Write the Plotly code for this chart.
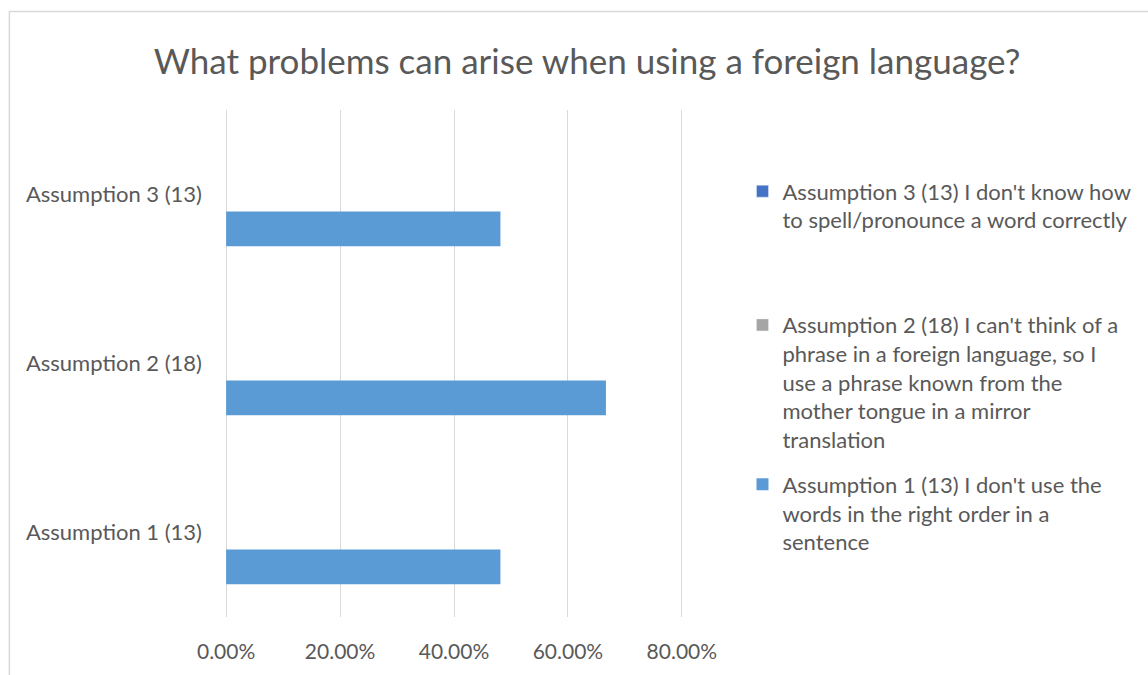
import plotly.graph_objects as go

# Survey categories (bottom to top on the chart) and their shares of respondents
categories = ["Assumption 1 (13)", "Assumption 2 (18)", "Assumption 3 (13)"]
shares = [0.4815, 0.6667, 0.4815]

# Legend entries (series names) and their colours
series_names = [
    "Assumption 3 (13) I don't know how<br>to spell/pronounce a word correctly",
    "Assumption 2 (18) I can't think of a<br>phrase in a foreign language, so I<br>"
    "use a phrase known from the<br>mother tongue in a mirror<br>translation",
    "Assumption 1 (13) I don't use the<br>words in the right order in a<br>sentence",
]
series_colors = ["#4472C4", "#A5A5A5", "#5B9BD5"]

x_ticks = [0, 0.2, 0.4, 0.6, 0.8]

FONT = "Lato"
TEXT = "#595959"
GRID = "#D9D9D9"

W, H = 1148, 675
L, R, T, B = 225, 461, 110, 53
plot_w = W - L - R
plot_h = H - T - B


def px_x(px):
    return (px - L) / plot_w


def px_y(py):
    return (H - B - py) / plot_h


fig = go.Figure()

# Legend-only series for Assumption 3 and Assumption 2
for i, leg in [(0, "legend"), (1, "legend2")]:
    fig.add_trace(go.Bar(
        x=[None], y=[None], orientation="h",
        name=series_names[i], marker_color=series_colors[i],
        legend=leg, showlegend=True,
    ))

# The drawn series: bars sit in the lowest slot of each category cluster
fig.add_trace(go.Bar(
    x=shares, y=categories, orientation="h",
    name=series_names[2], marker_color=series_colors[2],
    marker_line_width=0,
    width=0.205, offset=-0.306,
    legend="legend3", showlegend=True,
    hoverinfo="x+y",
))

legend_common = dict(
    font=dict(family=FONT, size=22, color=TEXT),
    bgcolor="rgba(0,0,0,0)", borderwidth=0,
    xref="paper", yref="paper", xanchor="left", yanchor="top",
    valign="top", itemclick=False,
)
legend_x = px_x(747)

fig.update_layout(
    width=W, height=H,
    margin=dict(l=L, r=R, t=T, b=B),
    paper_bgcolor="white", plot_bgcolor="white",
    barmode="overlay",
    title=dict(
        text="What problems can arise when using a foreign language?",
        font=dict(family=FONT, size=35, color=TEXT),
        x=587 / W, xanchor="center", xref="container",
        y=(H - 62) / H, yanchor="middle", yref="container",
    ),
    xaxis=dict(
        range=[-0.002, 0.802], tickvals=x_ticks, tickformat=".2%",
        showgrid=True, gridcolor=GRID, gridwidth=1.3,
        zeroline=False, showline=False, ticks="",
        tickfont=dict(family=FONT, size=21, color=TEXT),
        ticklabelstandoff=20,
    ),
    yaxis=dict(
        type="category", categoryorder="array", categoryarray=categories,
        range=[-0.5, 2.5],
        showgrid=False, zeroline=False, showline=False, ticks="",
        tickfont=dict(family=FONT, size=22, color=TEXT),
        ticklabelstandoff=22,
    ),
    legend=dict(legend_common, x=legend_x, y=px_y(171)),
    legend2=dict(legend_common, x=legend_x, y=px_y(306)),
    legend3=dict(legend_common, x=legend_x, y=px_y(467)),
    shapes=[
        # chart frame
        dict(type="rect", xref="paper", yref="paper",
             x0=px_x(7.5), x1=px_x(W + 10), y0=px_y(H + 10), y1=px_y(10.5),
             line=dict(color=GRID, width=1.5), fillcolor="rgba(0,0,0,0)",
             layer="below"),
    ],
)

fig.write_html("out.html")
